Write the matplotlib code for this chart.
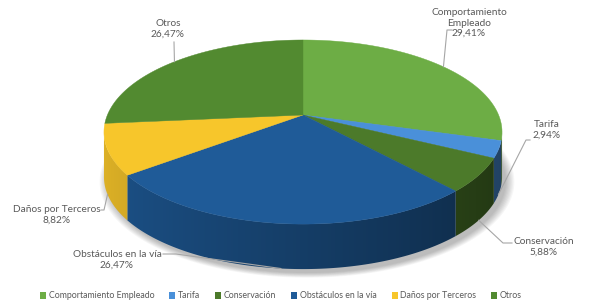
import numpy as np
import matplotlib.pyplot as plt
from matplotlib.patches import Polygon, Patch
from matplotlib.colors import to_rgb

plt.rcParams['font.family'] = ['Lato', 'DejaVu Sans']

# Datos
categorias = ['Comportamiento Empleado', 'Tarifa', 'Conservación',
              'Obstáculos en la vía', 'Daños por Terceros', 'Otros']
etiquetas = ['Comportamiento\nEmpleado', 'Tarifa', 'Conservación',
             'Obstáculos en la vía', 'Daños por Terceros', 'Otros']
porcentajes = [29.41, 2.94, 5.88, 26.47, 8.82, 26.47]
colores = ['#6DAD45', '#4A90D9', '#4C7A2A', '#1F5B98', '#F7C62B', '#528A30']

# Geometria del pastel 3D (en pixeles)
cx, cy = 303, 115
rx, ry = 195.6, 88.9
k = 0.185      # perspectiva
prof = 45      # altura del cilindro


def proj(t):
    t = np.radians(t)
    s = 1 / (1 + k * np.sin(t))
    return cx + rx * np.cos(t) * s, cy - ry * np.sin(t) * s


fig = plt.figure(figsize=(5.97, 3.05), dpi=100)
ax = fig.add_axes([0, 0, 1, 1])
ax.set_xlim(0, 597)
ax.set_ylim(305, 0)
ax.axis('off')

# sombra
tt = np.linspace(0, 360, 200)
sx, sy = proj(tt)
for i in range(8):
    esc = 1 + i * 0.006
    ax.add_patch(Polygon(np.column_stack([cx + (sx - cx) * esc + 4, cy + (sy - cy) * esc + prof + 4]),
                         closed=True, facecolor='#000000', edgecolor='none', alpha=0.035))

total = sum(porcentajes)
acum = np.concatenate([[0], np.cumsum(porcentajes)])
t_ini = 90 - 360 * acum[:-1] / total
t_fin = 90 - 360 * acum[1:] / total

# pared lateral visible (con degradado segun x)
lim = np.degrees(np.arcsin(k))
vis_a, vis_b = -180 + lim, -lim
t_vis = np.linspace(vis_a, vis_b, 400)
x_vis, _ = proj(t_vis)
for i in range(len(porcentajes)):
    a = max(t_fin[i], vis_a)
    b = min(t_ini[i], vis_b)
    if a >= b:
        continue
    t = np.linspace(a, b, 120)
    x, y = proj(t)
    pared = np.column_stack([np.r_[x, x[::-1]], np.r_[y, y[::-1] + prof]])
    poly = Polygon(pared, closed=True, facecolor='none', edgecolor='none')
    ax.add_patch(poly)
    x0, x1 = x.min() - 1, x.max() + 1
    y0, y1 = y.min() - 1, y.max() + prof + 1
    xs = np.linspace(x0, x1, 200)
    ts = np.radians(np.interp(xs, x_vis, t_vis))
    f = 0.675 - 0.225 * np.cos(ts)
    img = np.clip(np.array(to_rgb(colores[i]))[None, None, :] * f[None, :, None], 0, 1)
    img = np.repeat(img, 2, axis=0)
    im = ax.imshow(img, extent=(x0, x1, y1, y0), aspect='auto', interpolation='bilinear', zorder=1)
    im.set_clip_path(poly)

# caras superiores
for i in range(len(porcentajes)):
    t = np.linspace(t_ini[i], t_fin[i], 80)
    x, y = proj(t)
    pts = np.column_stack([np.r_[cx, x], np.r_[cy, y]])
    ax.add_patch(Polygon(pts, closed=True, facecolor=colores[i], edgecolor=colores[i], lw=0.3, zorder=2))

ax.set_xlim(0, 597)
ax.set_ylim(305, 0)

# etiquetas con lineas guia
pos_texto = [(469, 23), (547, 130), (544, 247), (117, 260), (57, 215), (168, 29)]
codo = [[(452, 30), (447, 30)], [(530, 140), (526, 140)], [(512, 243), (503, 243)],
        [(163, 254), (176, 254)], [(101, 210), (104, 210)], [(174, 42)]]
for i in range(len(porcentajes)):
    tm = (t_ini[i] + t_fin[i]) / 2
    ax_, ay_ = proj(tm)
    if np.sin(np.radians(tm)) < 0:
        ay_ = ay_ + prof
    pts = codo[i] + [(ax_, ay_)]
    ax.plot([p[0] for p in pts], [p[1] for p in pts], color='#A6A6A6', lw=0.8, zorder=3)
    txt = etiquetas[i] + '\n' + f'{porcentajes[i]:.2f}'.replace('.', ',') + '%'
    ax.text(pos_texto[i][0], pos_texto[i][1], txt, ha='center', va='center',
            fontsize=7.3, color='#595959', linespacing=1.15)

# leyenda
handles = [Patch(facecolor=c, edgecolor='none') for c in colores]
fig.legend(handles, categorias, loc='center', bbox_to_anchor=(281 / 597, 1 - 296 / 305),
           ncol=6, frameon=False, fontsize=6.3, handlelength=0.7, handleheight=0.7,
           handletextpad=0.3, columnspacing=1.7, labelcolor='#595959')

plt.savefig('out.png', dpi=100)
